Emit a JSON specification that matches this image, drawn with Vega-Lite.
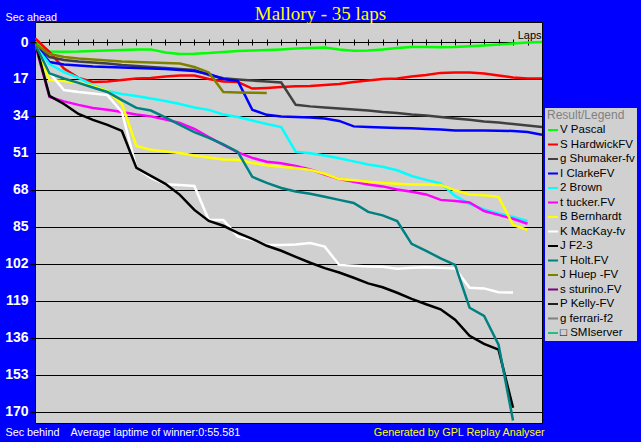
{
"$schema": "https://vega.github.io/schema/vega-lite/v6.json",
"width": 507, "height": 401,
"autosize": {"type": "none"},
"padding": {"left": 35, "top": 22, "right": 99, "bottom": 19},
"background": "#0000ff",
"title": {"text": "Mallory - 35 laps", "color": "#ffff00", "font": "Liberation Serif", "fontSize": 19, "fontWeight": "normal", "anchor": "middle", "frame": "group", "dx": 32, "dy": 15, "offset": 2},
"data": {"values": [
{"driver":"V Pascal","lap":0,"sec":0},{"driver":"V Pascal","lap":1,"sec":4.4},{"driver":"V Pascal","lap":2,"sec":4.5},{"driver":"V Pascal","lap":3,"sec":4.4},{"driver":"V Pascal","lap":4,"sec":4.1},{"driver":"V Pascal","lap":5,"sec":3.9},{"driver":"V Pascal","lap":6,"sec":3.7},{"driver":"V Pascal","lap":7,"sec":3.4},{"driver":"V Pascal","lap":8,"sec":3.4},{"driver":"V Pascal","lap":9,"sec":4.8},{"driver":"V Pascal","lap":10,"sec":5.5},{"driver":"V Pascal","lap":11,"sec":5.4},{"driver":"V Pascal","lap":12,"sec":5.1},{"driver":"V Pascal","lap":13,"sec":4.6},{"driver":"V Pascal","lap":14,"sec":4.1},{"driver":"V Pascal","lap":15,"sec":3.9},{"driver":"V Pascal","lap":16,"sec":3.7},{"driver":"V Pascal","lap":17,"sec":3.4},{"driver":"V Pascal","lap":18,"sec":3.0},{"driver":"V Pascal","lap":19,"sec":2.8},{"driver":"V Pascal","lap":20,"sec":2.5},{"driver":"V Pascal","lap":21,"sec":3.4},{"driver":"V Pascal","lap":22,"sec":4.0},{"driver":"V Pascal","lap":23,"sec":3.9},{"driver":"V Pascal","lap":24,"sec":3.4},{"driver":"V Pascal","lap":25,"sec":2.8},{"driver":"V Pascal","lap":26,"sec":2.3},{"driver":"V Pascal","lap":27,"sec":2.3},{"driver":"V Pascal","lap":28,"sec":2.4},{"driver":"V Pascal","lap":29,"sec":2.3},{"driver":"V Pascal","lap":30,"sec":2.0},{"driver":"V Pascal","lap":31,"sec":1.6},{"driver":"V Pascal","lap":32,"sec":1.1},{"driver":"V Pascal","lap":33,"sec":0.7},{"driver":"V Pascal","lap":34,"sec":0.2},{"driver":"V Pascal","lap":35,"sec":0},
{"driver":"S HardwickFV","lap":0,"sec":-1.8},{"driver":"S HardwickFV","lap":1,"sec":4.6},{"driver":"S HardwickFV","lap":2,"sec":12.2},{"driver":"S HardwickFV","lap":3,"sec":16.5},{"driver":"S HardwickFV","lap":4,"sec":18.4},{"driver":"S HardwickFV","lap":5,"sec":18.2},{"driver":"S HardwickFV","lap":6,"sec":17.5},{"driver":"S HardwickFV","lap":7,"sec":16.8},{"driver":"S HardwickFV","lap":8,"sec":16.5},{"driver":"S HardwickFV","lap":9,"sec":15.9},{"driver":"S HardwickFV","lap":10,"sec":15.4},{"driver":"S HardwickFV","lap":11,"sec":15.4},{"driver":"S HardwickFV","lap":12,"sec":17.0},{"driver":"S HardwickFV","lap":13,"sec":18.2},{"driver":"S HardwickFV","lap":14,"sec":18.4},{"driver":"S HardwickFV","lap":15,"sec":21.4},{"driver":"S HardwickFV","lap":16,"sec":21.1},{"driver":"S HardwickFV","lap":17,"sec":20.7},{"driver":"S HardwickFV","lap":18,"sec":20.4},{"driver":"S HardwickFV","lap":19,"sec":20.2},{"driver":"S HardwickFV","lap":20,"sec":19.8},{"driver":"S HardwickFV","lap":21,"sec":19.3},{"driver":"S HardwickFV","lap":22,"sec":18.4},{"driver":"S HardwickFV","lap":23,"sec":17.7},{"driver":"S HardwickFV","lap":24,"sec":17.0},{"driver":"S HardwickFV","lap":25,"sec":16.8},{"driver":"S HardwickFV","lap":26,"sec":15.9},{"driver":"S HardwickFV","lap":27,"sec":15.2},{"driver":"S HardwickFV","lap":28,"sec":14.2},{"driver":"S HardwickFV","lap":29,"sec":14.0},{"driver":"S HardwickFV","lap":30,"sec":14.0},{"driver":"S HardwickFV","lap":31,"sec":14.5},{"driver":"S HardwickFV","lap":32,"sec":15.4},{"driver":"S HardwickFV","lap":33,"sec":16.3},{"driver":"S HardwickFV","lap":34,"sec":16.8},{"driver":"S HardwickFV","lap":35,"sec":16.8},
{"driver":"g Shumaker-fv","lap":0,"sec":1.4},{"driver":"g Shumaker-fv","lap":1,"sec":6.9},{"driver":"g Shumaker-fv","lap":2,"sec":8.3},{"driver":"g Shumaker-fv","lap":3,"sec":9.0},{"driver":"g Shumaker-fv","lap":4,"sec":9.4},{"driver":"g Shumaker-fv","lap":5,"sec":9.9},{"driver":"g Shumaker-fv","lap":6,"sec":10.6},{"driver":"g Shumaker-fv","lap":7,"sec":11.0},{"driver":"g Shumaker-fv","lap":8,"sec":11.5},{"driver":"g Shumaker-fv","lap":9,"sec":11.9},{"driver":"g Shumaker-fv","lap":10,"sec":12.4},{"driver":"g Shumaker-fv","lap":11,"sec":12.9},{"driver":"g Shumaker-fv","lap":12,"sec":15.2},{"driver":"g Shumaker-fv","lap":13,"sec":16.7},{"driver":"g Shumaker-fv","lap":14,"sec":17.2},{"driver":"g Shumaker-fv","lap":15,"sec":17.7},{"driver":"g Shumaker-fv","lap":16,"sec":18.2},{"driver":"g Shumaker-fv","lap":17,"sec":18.6},{"driver":"g Shumaker-fv","lap":18,"sec":28.9},{"driver":"g Shumaker-fv","lap":19,"sec":29.6},{"driver":"g Shumaker-fv","lap":20,"sec":30.1},{"driver":"g Shumaker-fv","lap":21,"sec":30.6},{"driver":"g Shumaker-fv","lap":22,"sec":31.0},{"driver":"g Shumaker-fv","lap":23,"sec":31.5},{"driver":"g Shumaker-fv","lap":24,"sec":32.2},{"driver":"g Shumaker-fv","lap":25,"sec":32.6},{"driver":"g Shumaker-fv","lap":26,"sec":33.3},{"driver":"g Shumaker-fv","lap":27,"sec":33.8},{"driver":"g Shumaker-fv","lap":28,"sec":34.5},{"driver":"g Shumaker-fv","lap":29,"sec":35.2},{"driver":"g Shumaker-fv","lap":30,"sec":35.8},{"driver":"g Shumaker-fv","lap":31,"sec":36.5},{"driver":"g Shumaker-fv","lap":32,"sec":37.0},{"driver":"g Shumaker-fv","lap":33,"sec":37.7},{"driver":"g Shumaker-fv","lap":34,"sec":38.4},{"driver":"g Shumaker-fv","lap":35,"sec":39.1},
{"driver":"I ClarkeFV","lap":0,"sec":0.9},{"driver":"I ClarkeFV","lap":1,"sec":9.2},{"driver":"I ClarkeFV","lap":2,"sec":10.3},{"driver":"I ClarkeFV","lap":3,"sec":10.8},{"driver":"I ClarkeFV","lap":4,"sec":11.3},{"driver":"I ClarkeFV","lap":5,"sec":11.5},{"driver":"I ClarkeFV","lap":6,"sec":11.7},{"driver":"I ClarkeFV","lap":7,"sec":11.9},{"driver":"I ClarkeFV","lap":8,"sec":12.2},{"driver":"I ClarkeFV","lap":9,"sec":12.4},{"driver":"I ClarkeFV","lap":10,"sec":12.9},{"driver":"I ClarkeFV","lap":11,"sec":13.3},{"driver":"I ClarkeFV","lap":12,"sec":14.7},{"driver":"I ClarkeFV","lap":13,"sec":17.0},{"driver":"I ClarkeFV","lap":14,"sec":17.9},{"driver":"I ClarkeFV","lap":15,"sec":31.2},{"driver":"I ClarkeFV","lap":16,"sec":33.5},{"driver":"I ClarkeFV","lap":17,"sec":34.2},{"driver":"I ClarkeFV","lap":18,"sec":34.5},{"driver":"I ClarkeFV","lap":19,"sec":34.7},{"driver":"I ClarkeFV","lap":20,"sec":35.2},{"driver":"I ClarkeFV","lap":21,"sec":36.3},{"driver":"I ClarkeFV","lap":22,"sec":38.8},{"driver":"I ClarkeFV","lap":23,"sec":39.1},{"driver":"I ClarkeFV","lap":24,"sec":39.3},{"driver":"I ClarkeFV","lap":25,"sec":39.5},{"driver":"I ClarkeFV","lap":26,"sec":39.7},{"driver":"I ClarkeFV","lap":27,"sec":40.0},{"driver":"I ClarkeFV","lap":28,"sec":40.2},{"driver":"I ClarkeFV","lap":29,"sec":40.7},{"driver":"I ClarkeFV","lap":30,"sec":40.7},{"driver":"I ClarkeFV","lap":31,"sec":40.7},{"driver":"I ClarkeFV","lap":32,"sec":40.8},{"driver":"I ClarkeFV","lap":33,"sec":40.9},{"driver":"I ClarkeFV","lap":34,"sec":41.4},{"driver":"I ClarkeFV","lap":35,"sec":42.7},
{"driver":"2 Brown","lap":0,"sec":1.8},{"driver":"2 Brown","lap":1,"sec":10.1},{"driver":"2 Brown","lap":2,"sec":13.8},{"driver":"2 Brown","lap":3,"sec":16.5},{"driver":"2 Brown","lap":4,"sec":19.8},{"driver":"2 Brown","lap":5,"sec":22.5},{"driver":"2 Brown","lap":6,"sec":23.9},{"driver":"2 Brown","lap":7,"sec":24.8},{"driver":"2 Brown","lap":8,"sec":26.0},{"driver":"2 Brown","lap":9,"sec":27.1},{"driver":"2 Brown","lap":10,"sec":28.5},{"driver":"2 Brown","lap":11,"sec":30.1},{"driver":"2 Brown","lap":12,"sec":31.2},{"driver":"2 Brown","lap":13,"sec":33.3},{"driver":"2 Brown","lap":14,"sec":34.5},{"driver":"2 Brown","lap":15,"sec":36.1},{"driver":"2 Brown","lap":16,"sec":37.7},{"driver":"2 Brown","lap":17,"sec":39.1},{"driver":"2 Brown","lap":18,"sec":50.5},{"driver":"2 Brown","lap":19,"sec":51.2},{"driver":"2 Brown","lap":20,"sec":52.2},{"driver":"2 Brown","lap":21,"sec":53.5},{"driver":"2 Brown","lap":22,"sec":54.9},{"driver":"2 Brown","lap":23,"sec":56.3},{"driver":"2 Brown","lap":24,"sec":57.4},{"driver":"2 Brown","lap":25,"sec":59.0},{"driver":"2 Brown","lap":26,"sec":61.6},{"driver":"2 Brown","lap":27,"sec":63.4},{"driver":"2 Brown","lap":28,"sec":65.0},{"driver":"2 Brown","lap":29,"sec":70.8},{"driver":"2 Brown","lap":30,"sec":74.4},{"driver":"2 Brown","lap":31,"sec":77.0},{"driver":"2 Brown","lap":32,"sec":78.8},{"driver":"2 Brown","lap":33,"sec":80.4},{"driver":"2 Brown","lap":34,"sec":82.3},
{"driver":"t tucker.FV","lap":0,"sec":0.9},{"driver":"t tucker.FV","lap":1,"sec":25.3},{"driver":"t tucker.FV","lap":2,"sec":27.3},{"driver":"t tucker.FV","lap":3,"sec":28.9},{"driver":"t tucker.FV","lap":4,"sec":30.3},{"driver":"t tucker.FV","lap":5,"sec":31.2},{"driver":"t tucker.FV","lap":6,"sec":32.2},{"driver":"t tucker.FV","lap":7,"sec":33.3},{"driver":"t tucker.FV","lap":8,"sec":34.2},{"driver":"t tucker.FV","lap":9,"sec":35.6},{"driver":"t tucker.FV","lap":10,"sec":37.2},{"driver":"t tucker.FV","lap":11,"sec":40.0},{"driver":"t tucker.FV","lap":12,"sec":43.7},{"driver":"t tucker.FV","lap":13,"sec":47.3},{"driver":"t tucker.FV","lap":14,"sec":50.8},{"driver":"t tucker.FV","lap":15,"sec":53.3},{"driver":"t tucker.FV","lap":16,"sec":55.1},{"driver":"t tucker.FV","lap":17,"sec":55.8},{"driver":"t tucker.FV","lap":18,"sec":57.0},{"driver":"t tucker.FV","lap":19,"sec":58.6},{"driver":"t tucker.FV","lap":20,"sec":60.9},{"driver":"t tucker.FV","lap":21,"sec":63.0},{"driver":"t tucker.FV","lap":22,"sec":64.3},{"driver":"t tucker.FV","lap":23,"sec":65.5},{"driver":"t tucker.FV","lap":24,"sec":66.4},{"driver":"t tucker.FV","lap":25,"sec":67.8},{"driver":"t tucker.FV","lap":26,"sec":68.9},{"driver":"t tucker.FV","lap":27,"sec":70.1},{"driver":"t tucker.FV","lap":28,"sec":72.6},{"driver":"t tucker.FV","lap":29,"sec":73.1},{"driver":"t tucker.FV","lap":30,"sec":73.8},{"driver":"t tucker.FV","lap":31,"sec":77.7},{"driver":"t tucker.FV","lap":32,"sec":79.5},{"driver":"t tucker.FV","lap":33,"sec":81.3},{"driver":"t tucker.FV","lap":34,"sec":83.6},
{"driver":"B Bernhardt","lap":0,"sec":0.9},{"driver":"B Bernhardt","lap":1,"sec":17.5},{"driver":"B Bernhardt","lap":2,"sec":17.9},{"driver":"B Bernhardt","lap":3,"sec":18.8},{"driver":"B Bernhardt","lap":4,"sec":20.2},{"driver":"B Bernhardt","lap":5,"sec":22.5},{"driver":"B Bernhardt","lap":6,"sec":28.5},{"driver":"B Bernhardt","lap":7,"sec":47.8},{"driver":"B Bernhardt","lap":8,"sec":49.6},{"driver":"B Bernhardt","lap":9,"sec":50.3},{"driver":"B Bernhardt","lap":10,"sec":51.0},{"driver":"B Bernhardt","lap":11,"sec":52.2},{"driver":"B Bernhardt","lap":12,"sec":53.1},{"driver":"B Bernhardt","lap":13,"sec":54.0},{"driver":"B Bernhardt","lap":14,"sec":54.2},{"driver":"B Bernhardt","lap":15,"sec":55.6},{"driver":"B Bernhardt","lap":16,"sec":56.7},{"driver":"B Bernhardt","lap":17,"sec":57.4},{"driver":"B Bernhardt","lap":18,"sec":57.9},{"driver":"B Bernhardt","lap":19,"sec":58.8},{"driver":"B Bernhardt","lap":20,"sec":60.6},{"driver":"B Bernhardt","lap":21,"sec":63.0},{"driver":"B Bernhardt","lap":22,"sec":63.6},{"driver":"B Bernhardt","lap":23,"sec":64.3},{"driver":"B Bernhardt","lap":24,"sec":64.8},{"driver":"B Bernhardt","lap":25,"sec":65.2},{"driver":"B Bernhardt","lap":26,"sec":65.5},{"driver":"B Bernhardt","lap":27,"sec":65.5},{"driver":"B Bernhardt","lap":28,"sec":65.7},{"driver":"B Bernhardt","lap":29,"sec":68.2},{"driver":"B Bernhardt","lap":30,"sec":70.1},{"driver":"B Bernhardt","lap":31,"sec":70.5},{"driver":"B Bernhardt","lap":32,"sec":71.2},{"driver":"B Bernhardt","lap":33,"sec":84.1},{"driver":"B Bernhardt","lap":34,"sec":86.4},
{"driver":"K MacKay-fv","lap":0,"sec":0.9},{"driver":"K MacKay-fv","lap":1,"sec":14.2},{"driver":"K MacKay-fv","lap":2,"sec":22.1},{"driver":"K MacKay-fv","lap":3,"sec":23.0},{"driver":"K MacKay-fv","lap":4,"sec":23.7},{"driver":"K MacKay-fv","lap":5,"sec":24.4},{"driver":"K MacKay-fv","lap":6,"sec":32.2},{"driver":"K MacKay-fv","lap":7,"sec":57.9},{"driver":"K MacKay-fv","lap":8,"sec":62.5},{"driver":"K MacKay-fv","lap":9,"sec":65.4},{"driver":"K MacKay-fv","lap":10,"sec":65.7},{"driver":"K MacKay-fv","lap":11,"sec":66.2},{"driver":"K MacKay-fv","lap":12,"sec":81.8},{"driver":"K MacKay-fv","lap":13,"sec":81.8},{"driver":"K MacKay-fv","lap":14,"sec":89.5},{"driver":"K MacKay-fv","lap":15,"sec":91.0},{"driver":"K MacKay-fv","lap":16,"sec":93.3},{"driver":"K MacKay-fv","lap":17,"sec":93.3},{"driver":"K MacKay-fv","lap":18,"sec":93.1},{"driver":"K MacKay-fv","lap":19,"sec":92.4},{"driver":"K MacKay-fv","lap":20,"sec":94.1},{"driver":"K MacKay-fv","lap":21,"sec":102.5},{"driver":"K MacKay-fv","lap":22,"sec":102.9},{"driver":"K MacKay-fv","lap":23,"sec":103.2},{"driver":"K MacKay-fv","lap":24,"sec":103.4},{"driver":"K MacKay-fv","lap":25,"sec":104.3},{"driver":"K MacKay-fv","lap":26,"sec":103.8},{"driver":"K MacKay-fv","lap":27,"sec":103.6},{"driver":"K MacKay-fv","lap":28,"sec":103.8},{"driver":"K MacKay-fv","lap":29,"sec":104.1},{"driver":"K MacKay-fv","lap":30,"sec":113.0},{"driver":"K MacKay-fv","lap":31,"sec":113.3},{"driver":"K MacKay-fv","lap":32,"sec":115.1},{"driver":"K MacKay-fv","lap":33,"sec":115.2},
{"driver":"J F2-3","lap":0,"sec":0},{"driver":"J F2-3","lap":1,"sec":24.8},{"driver":"J F2-3","lap":2,"sec":28.5},{"driver":"J F2-3","lap":3,"sec":33.1},{"driver":"J F2-3","lap":4,"sec":35.8},{"driver":"J F2-3","lap":5,"sec":38.1},{"driver":"J F2-3","lap":6,"sec":40.9},{"driver":"J F2-3","lap":7,"sec":57.9},{"driver":"J F2-3","lap":8,"sec":61.6},{"driver":"J F2-3","lap":9,"sec":65.2},{"driver":"J F2-3","lap":10,"sec":70.3},{"driver":"J F2-3","lap":11,"sec":77.2},{"driver":"J F2-3","lap":12,"sec":82.3},{"driver":"J F2-3","lap":13,"sec":84.5},{"driver":"J F2-3","lap":14,"sec":87.8},{"driver":"J F2-3","lap":15,"sec":90.5},{"driver":"J F2-3","lap":16,"sec":93.7},{"driver":"J F2-3","lap":17,"sec":96.0},{"driver":"J F2-3","lap":18,"sec":98.8},{"driver":"J F2-3","lap":19,"sec":101.5},{"driver":"J F2-3","lap":20,"sec":104.0},{"driver":"J F2-3","lap":21,"sec":106.0},{"driver":"J F2-3","lap":22,"sec":108.4},{"driver":"J F2-3","lap":23,"sec":111.0},{"driver":"J F2-3","lap":24,"sec":112.8},{"driver":"J F2-3","lap":25,"sec":115.3},{"driver":"J F2-3","lap":26,"sec":118.1},{"driver":"J F2-3","lap":27,"sec":120.6},{"driver":"J F2-3","lap":28,"sec":122.9},{"driver":"J F2-3","lap":29,"sec":127.7},{"driver":"J F2-3","lap":30,"sec":135.1},{"driver":"J F2-3","lap":31,"sec":138.8},{"driver":"J F2-3","lap":32,"sec":141.5},{"driver":"J F2-3","lap":33,"sec":168.2},
{"driver":"T Holt.FV","lap":0,"sec":0.9},{"driver":"T Holt.FV","lap":1,"sec":14.4},{"driver":"T Holt.FV","lap":2,"sec":16.8},{"driver":"T Holt.FV","lap":3,"sec":18.8},{"driver":"T Holt.FV","lap":4,"sec":20.9},{"driver":"T Holt.FV","lap":5,"sec":23.0},{"driver":"T Holt.FV","lap":6,"sec":26.7},{"driver":"T Holt.FV","lap":7,"sec":30.3},{"driver":"T Holt.FV","lap":8,"sec":31.5},{"driver":"T Holt.FV","lap":9,"sec":34.7},{"driver":"T Holt.FV","lap":10,"sec":38.1},{"driver":"T Holt.FV","lap":11,"sec":41.4},{"driver":"T Holt.FV","lap":12,"sec":44.1},{"driver":"T Holt.FV","lap":13,"sec":47.1},{"driver":"T Holt.FV","lap":14,"sec":50.5},{"driver":"T Holt.FV","lap":15,"sec":62.0},{"driver":"T Holt.FV","lap":16,"sec":64.8},{"driver":"T Holt.FV","lap":17,"sec":67.1},{"driver":"T Holt.FV","lap":18,"sec":68.7},{"driver":"T Holt.FV","lap":19,"sec":69.8},{"driver":"T Holt.FV","lap":20,"sec":71.2},{"driver":"T Holt.FV","lap":21,"sec":72.6},{"driver":"T Holt.FV","lap":22,"sec":74.0},{"driver":"T Holt.FV","lap":23,"sec":78.1},{"driver":"T Holt.FV","lap":24,"sec":79.7},{"driver":"T Holt.FV","lap":25,"sec":82.3},{"driver":"T Holt.FV","lap":26,"sec":92.8},{"driver":"T Holt.FV","lap":27,"sec":96.0},{"driver":"T Holt.FV","lap":28,"sec":99.5},{"driver":"T Holt.FV","lap":29,"sec":102.5},{"driver":"T Holt.FV","lap":30,"sec":122.2},{"driver":"T Holt.FV","lap":31,"sec":125.9},{"driver":"T Holt.FV","lap":32,"sec":139.2},{"driver":"T Holt.FV","lap":33,"sec":174.1},
{"driver":"J Huep -FV","lap":0,"sec":0.9},{"driver":"J Huep -FV","lap":1,"sec":5.5},{"driver":"J Huep -FV","lap":2,"sec":6.9},{"driver":"J Huep -FV","lap":3,"sec":7.6},{"driver":"J Huep -FV","lap":4,"sec":8.0},{"driver":"J Huep -FV","lap":5,"sec":8.5},{"driver":"J Huep -FV","lap":6,"sec":9.0},{"driver":"J Huep -FV","lap":7,"sec":9.2},{"driver":"J Huep -FV","lap":8,"sec":9.4},{"driver":"J Huep -FV","lap":9,"sec":9.6},{"driver":"J Huep -FV","lap":10,"sec":9.9},{"driver":"J Huep -FV","lap":11,"sec":11.5},{"driver":"J Huep -FV","lap":12,"sec":14.0},{"driver":"J Huep -FV","lap":13,"sec":23.0},{"driver":"J Huep -FV","lap":14,"sec":23.2},{"driver":"J Huep -FV","lap":15,"sec":23.3},{"driver":"J Huep -FV","lap":16,"sec":23.4}
]},
"resolve": {"axis": {"x": "independent", "y": "independent"}},
"layer": [
{
"mark": {"type": "line", "strokeWidth": 2.5, "clip": true},
"encoding": {
"x": {"field": "lap", "type": "quantitative", "scale": {"domain": [0, 35], "nice": false, "zero": false},
 "axis": {"orient": "top", "offset": -23, "values": [1,2,3,4,5,6,7,8,9,10,11,12,13,14,15,16,17,18,19,20,21,22,23,24,25,26,27,28,29,30,31,32,33,34], "labels": false, "domain": false, "grid": false, "ticks": true, "tickColor": "#000000", "tickSize": 6, "tickWidth": 1,
  "title": "Laps", "titleX": 506, "titleY": -7, "titleAlign": "right", "titleBaseline": "alphabetic", "titleColor": "#000000", "titleFont": "Liberation Sans", "titleFontSize": 11, "titleFontWeight": "normal"}},
"y": {"field": "sec", "type": "quantitative", "scale": {"domain": [-9.2, 175.2], "nice": false, "zero": false, "reverse": true},
 "axis": {"orient": "left", "values": [0,17,34,51,68,85,102,119,136,153,170], "grid": true, "gridColor": "#000000", "gridOpacity": 1, "gridWidth": 1, "domain": false, "ticks": true, "tickColor": "#000000", "tickSize": 5, "tickWidth": 1,
  "labelColor": "#ffffff", "labelFont": "Liberation Sans", "labelFontSize": 14, "labelFontWeight": "bold", "labelPadding": 2,
  "title": "Sec ahead", "titleAngle": 0, "titleX": -30, "titleY": -5, "titleAlign": "left", "titleBaseline": "middle", "titleColor": "#ffffff", "titleFont": "Liberation Sans", "titleFontSize": 10.8, "titleFontWeight": "normal"}},
"color": {"field": "driver", "type": "nominal",
 "scale": {"domain": ["V Pascal","S HardwickFV","g Shumaker-fv","I ClarkeFV","2 Brown","t tucker.FV","B Bernhardt","K MacKay-fv","J F2-3","T Holt.FV","J Huep -FV","s sturino.FV","P Kelly-FV","g ferrari-f2","□ SMIserver"],
  "range": ["#00ff00","#ff0000","#404040","#0000ff","#00ffff","#ff00ff","#ffff00","#ffffff","#000000","#008080","#808000","#800080","#202020","#808080","#20c080"]},
 "legend": {"orient": "none", "legendX": 510, "legendY": 86, "title": "Result/Legend", "titleColor": "#808080", "titleFont": "Liberation Sans", "titleFontSize": 12, "titleFontWeight": "normal", "titlePadding": 2,
  "fillColor": "#d0d0d0", "padding": 2, "symbolType": "stroke", "symbolSize": 100, "symbolStrokeWidth": 2, "labelColor": "#000000", "labelFont": "Liberation Sans", "labelFontSize": 11.5, "labelOffset": 1, "rowPadding": 2.5}}
}
},
{
"mark": {"type": "point", "opacity": 0},
"encoding": {
"x": {"field": "lap", "type": "quantitative", "scale": {"domain": [0, 35], "nice": false, "zero": false},
 "axis": {"orient": "bottom", "domain": false, "ticks": false, "labels": false, "grid": false,
  "title": "Average laptime of winner:0:55.581", "titleX": 35, "titleY": 9, "titleAlign": "left", "titleBaseline": "middle", "titleColor": "#ffffff", "titleFont": "Liberation Sans", "titleFontSize": 10.8, "titleFontWeight": "normal"}},
"y": {"field": "sec", "type": "quantitative", "scale": {"domain": [-9.2, 175.2], "nice": false, "zero": false, "reverse": true},
 "axis": {"orient": "right", "domain": false, "ticks": false, "labels": false, "grid": false,
  "title": "Sec behind", "titleAngle": 0, "titleX": -537, "titleY": 410, "titleAlign": "left", "titleBaseline": "middle", "titleColor": "#ffffff", "titleFont": "Liberation Sans", "titleFontSize": 10.8, "titleFontWeight": "normal"}}
}
},
{
"mark": {"type": "point", "opacity": 0},
"encoding": {
"y": {"field": "sec", "type": "quantitative", "scale": {"domain": [-9.2, 175.2], "nice": false, "zero": false, "reverse": true},
 "axis": {"orient": "right", "domain": false, "ticks": false, "labels": false, "grid": false,
  "title": "Generated by GPL Replay Analyser", "titleAngle": 0, "titleX": 2, "titleY": 410, "titleAlign": "right", "titleBaseline": "middle", "titleColor": "#ffff00", "titleFont": "Liberation Sans", "titleFontSize": 10.8, "titleFontWeight": "normal"}}
}
}
],
"config": {
"view": {"fill": "#d0d0d0", "stroke": "#000000", "strokeWidth": 1},
"font": "Liberation Sans"
}
}
